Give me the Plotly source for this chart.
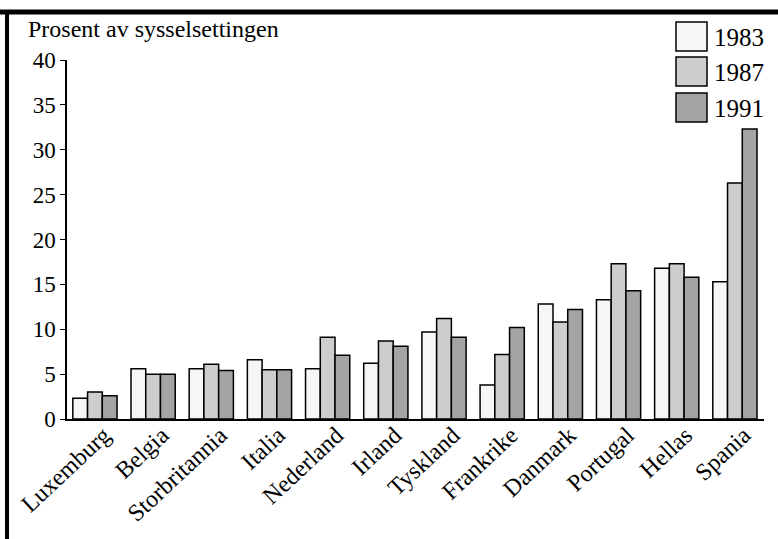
import plotly.graph_objects as go

countries = ["Luxemburg", "Belgia", "Storbritannia", "Italia", "Nederland", "Irland",
             "Tyskland", "Frankrike", "Danmark", "Portugal", "Hellas", "Spania"]
v1983 = [2.3, 5.6, 5.6, 6.6, 5.6, 6.2, 9.7, 3.8, 12.8, 13.3, 16.8, 15.3]
v1987 = [3.0, 5.0, 6.1, 5.5, 9.1, 8.7, 11.2, 7.2, 10.8, 17.3, 17.3, 26.3]
v1991 = [2.6, 5.0, 5.4, 5.5, 7.1, 8.1, 9.1, 10.2, 12.2, 14.3, 15.8, 32.3]
years = ["1983", "1987", "1991"]
fills = ["#f6f6f6", "#cdcdcd", "#a4a4a4"]
y_ticks = [0, 5, 10, 15, 20, 25, 30, 35, 40]
title_text = "Prosent av sysselsettingen"

W, H = 778, 539
L, R, T, B = 67, 14, 60, 120
PW, PH = W - L - R, H - T - B

def px(x):
    return (x - L) / PW

def py(y):
    return (H - B - y) / PH

FONT = "Liberation Serif, Times New Roman, serif"

fig = go.Figure()
for name, vals, col in zip(years, [v1983, v1987, v1991], fills):
    fig.add_trace(go.Bar(
        x=countries, y=vals, name=name,
        marker=dict(color=col, line=dict(color="black", width=1.5)),
        showlegend=False, hoverinfo="skip",
    ))

shapes = [
    dict(type="line", xref="paper", yref="paper", x0=px(0), x1=px(W), y0=py(12), y1=py(12),
         line=dict(color="black", width=5)),
    dict(type="line", xref="paper", yref="paper", x0=px(7), x1=px(7), y0=py(14), y1=py(H),
         line=dict(color="black", width=4)),
]
annotations = [
    dict(text=title_text, xref="paper", yref="paper", x=px(26), y=py(29),
         xanchor="left", yanchor="middle", showarrow=False,
         font=dict(family=FONT, size=24, color="black")),
]
box_tops = [22, 57, 93]
for yr, col, top in zip(years, fills, box_tops):
    shapes.append(dict(type="rect", xref="paper", yref="paper",
                       x0=px(676), x1=px(707), y0=py(top + 29), y1=py(top),
                       fillcolor=col, line=dict(color="black", width=1.5)))
    annotations.append(dict(text=yr, xref="paper", yref="paper", x=px(712), y=py(top + 15),
                            xanchor="left", yanchor="middle", showarrow=False,
                            font=dict(family=FONT, size=25, color="black")))

fig.update_layout(
    width=W, height=H,
    margin=dict(l=L, r=R, t=T, b=B, pad=0, autoexpand=False),
    paper_bgcolor="white", plot_bgcolor="white",
    barmode="group", bargap=0.24, bargroupgap=0,
    font=dict(family=FONT, size=23, color="black"),
    shapes=shapes, annotations=annotations,
    xaxis=dict(range=[-0.48, 11.5], showgrid=False, showline=True, linecolor="black",
               linewidth=1.5, ticks="", tickangle=-43, automargin=False,
               ticklabelshift=9, ticklabelstandoff=-9,
               tickfont=dict(family=FONT, size=24, color="black")),
    yaxis=dict(range=[0, 40], tickvals=y_ticks, showgrid=False, zeroline=False,
               showline=True, linecolor="black", linewidth=1.5, automargin=False,
               ticks="outside", ticklen=5, tickcolor="black", tickwidth=1,
               tickfont=dict(family=FONT, size=23, color="black")),
)

fig.write_html("out.html", config={"displayModeBar": False},
               post_script="document.body.style.margin='0';document.body.style.padding='0';")
